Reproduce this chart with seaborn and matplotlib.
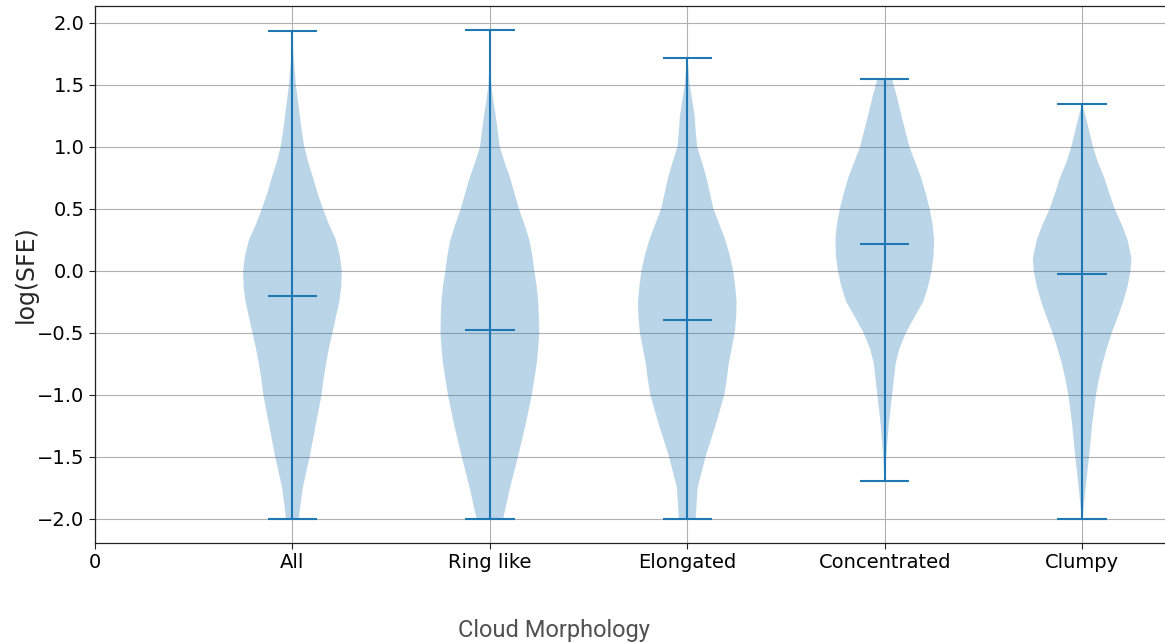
import numpy as np
import matplotlib
matplotlib.use("Agg")
import matplotlib.pyplot as plt
import seaborn as sns

# Cloud morphology groups and summary statistics of log(SFE)
categories = ["All", "Ring like", "Elongated", "Concentrated", "Clumpy"]
medians = [-0.205, -0.48, -0.395, 0.213, -0.028]
minima = [-2.0, -2.0, -2.0, -1.695, -2.0]
maxima = [1.936, 1.94, 1.72, 1.545, 1.35]

# Estimated density profiles (log(SFE) level, relative density) per group
all_levels = [-2.0, -1.9, -1.75, -1.5, -1.25, -1.0, -0.875, -0.75, -0.625,
              -0.5, -0.375, -0.25, -0.125, 0.0, 0.125, 0.25, 0.375, 0.5,
              0.625, 0.75, 0.875, 1.0, 1.125, 1.25, 1.375, 1.5, 1.6, 1.75,
              1.936]
all_density = [0.13, 0.16, 0.21, 0.35, 0.47, 0.59, 0.63, 0.68, 0.74,
               0.81, 0.88, 0.95, 0.99, 1.0, 0.96, 0.88, 0.74, 0.62,
               0.51, 0.42, 0.32, 0.24, 0.19, 0.15, 0.11, 0.07, 0.05, 0.02,
               0.0]

ring_levels = [-2.0, -1.75, -1.5, -1.25, -1.0, -0.875, -0.75, -0.625, -0.5,
               -0.375, -0.25, -0.125, 0.0, 0.125, 0.25, 0.375, 0.5, 0.625,
               0.75, 0.875, 1.0, 1.125, 1.25, 1.375, 1.5, 1.7, 1.94]
ring_density = [0.27, 0.41, 0.57, 0.72, 0.85, 0.9, 0.95, 0.98, 1.0,
                0.995, 0.98, 0.95, 0.9, 0.86, 0.8, 0.7, 0.59, 0.5,
                0.41, 0.3, 0.2, 0.16, 0.12, 0.07, 0.03, 0.005, 0.0]

elong_levels = [-2.0, -1.75, -1.5, -1.25, -1.0, -0.875, -0.75, -0.625, -0.5,
                -0.375, -0.25, -0.125, 0.0, 0.125, 0.25, 0.375, 0.5, 0.625,
                0.75, 0.875, 1.0, 1.125, 1.25, 1.375, 1.5, 1.6, 1.72]
elong_density = [0.17, 0.21, 0.37, 0.57, 0.75, 0.8, 0.84, 0.9, 0.96,
                 0.99, 1.0, 0.97, 0.93, 0.86, 0.77, 0.65, 0.53, 0.46,
                 0.39, 0.3, 0.2, 0.17, 0.15, 0.1, 0.05, 0.03, 0.0]

conc_levels = [-1.695, -1.5, -1.25, -1.0, -0.75, -0.625, -0.5, -0.375, -0.25,
               -0.125, 0.0, 0.125, 0.25, 0.375, 0.5, 0.625, 0.75, 0.875,
               1.0, 1.125, 1.25, 1.4, 1.545]
conc_density = [0.01, 0.03, 0.08, 0.15, 0.22, 0.3, 0.43, 0.6, 0.78,
                0.88, 0.95, 0.99, 1.0, 0.97, 0.91, 0.83, 0.74, 0.62,
                0.5, 0.42, 0.34, 0.25, 0.15]

clumpy_levels = [-2.0, -1.75, -1.5, -1.25, -1.0, -0.875, -0.75, -0.625, -0.5,
                 -0.375, -0.25, -0.125, 0.0, 0.1, 0.25, 0.375, 0.5, 0.625,
                 0.75, 0.875, 1.0, 1.1, 1.2, 1.35]
clumpy_density = [0.01, 0.07, 0.14, 0.2, 0.28, 0.34, 0.41, 0.5, 0.6,
                  0.72, 0.83, 0.92, 0.98, 1.0, 0.92, 0.8, 0.66, 0.55,
                  0.45, 0.32, 0.22, 0.16, 0.1, 0.0]

tick_labels = ["0"] + categories

profiles = [
    (all_levels, all_density),
    (ring_levels, ring_density),
    (elong_levels, elong_density),
    (conc_levels, conc_density),
    (clumpy_levels, clumpy_density),
]

sns.set_style("ticks", {
    "axes.grid": True,
    "grid.color": "#b0b0b0",
    "axes.edgecolor": "#222222",
    "xtick.direction": "out",
    "ytick.direction": "out",
})
plt.rcParams["font.family"] = ["DejaVu Sans"]
plt.rcParams["grid.linewidth"] = 0.8

fig = plt.figure(figsize=(11.65, 6.43), dpi=100)
ax = fig.add_axes([95 / 1165, 1 - 543 / 643, 1076 / 1165, 537 / 643])

vpstats = []
for (lv, dn), med, lo, hi in zip(profiles, medians, minima, maxima):
    vpstats.append({
        "coords": np.asarray(lv, dtype=float),
        "vals": np.asarray(dn, dtype=float),
        "mean": med,
        "median": med,
        "min": lo,
        "max": hi,
    })

positions = np.arange(1, len(categories) + 1)
parts = ax.violin(vpstats, positions=positions, widths=0.5,
                  showmedians=True, showextrema=True)

blue = "#1f77b4"
for body in parts["bodies"]:
    body.set_facecolor(blue)
    body.set_edgecolor("none")
    body.set_alpha(0.3)
for key in ("cbars", "cmins", "cmaxes", "cmedians"):
    parts[key].set_color(blue)
    parts[key].set_linewidth(1.5)

ax.set_xticks(np.arange(0, len(categories) + 1))
ax.set_xticklabels(tick_labels)
ax.set_xlim(0, 5.45)
ax.set_yticks(np.arange(-2.0, 2.01, 0.5))
ax.tick_params(axis="both", labelsize=14, length=4, width=0.8, colors="#222222",
               labelcolor="black")
ax.grid(True, color="#b0b0b0", linewidth=0.8)
ax.set_axisbelow(True)
for sp in ax.spines.values():
    sp.set_linewidth(0.9)

ax.set_ylabel("log(SFE)", fontsize=17)
ax.yaxis.set_label_coords(-0.053, 0.5)

fig.text(554 / 1165, 1 - 630 / 643, "Cloud Morphology", family="Roboto",
         fontsize=17, color="#505050", ha="center", va="center")

fig.savefig("out.png", dpi=100)
